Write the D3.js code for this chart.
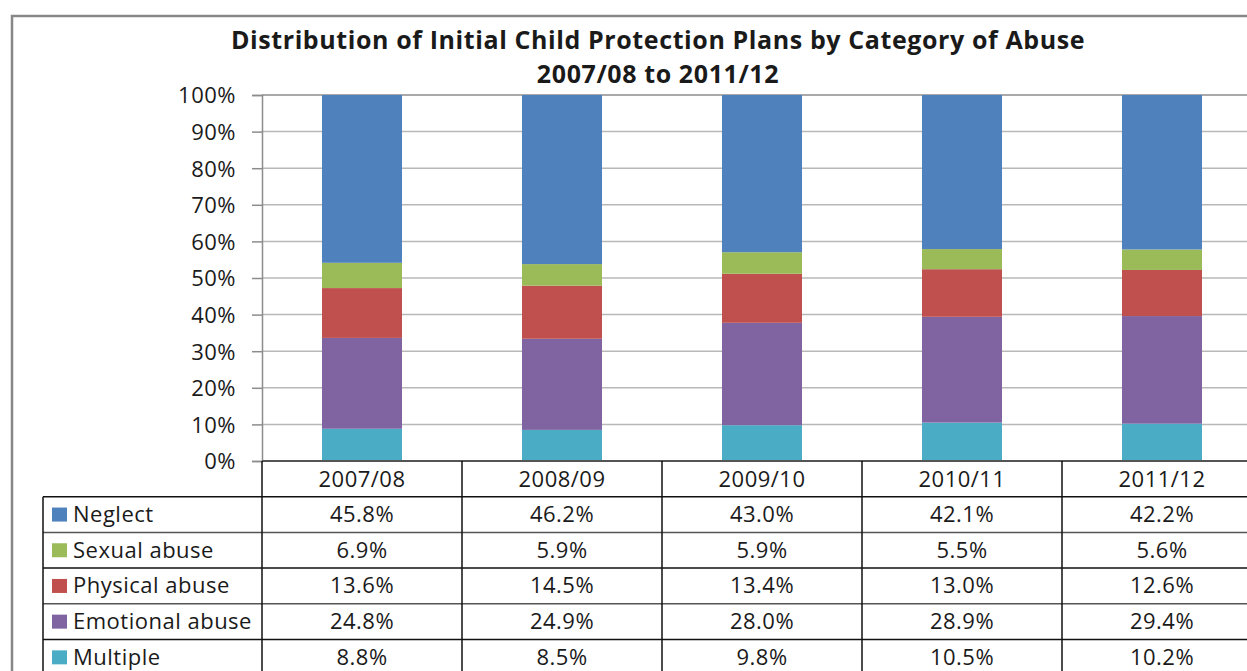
<!DOCTYPE html>
<html>
<head>
<meta charset="utf-8">
<script src="https://d3js.org/d3.v7.min.js"></script>
<style>
  body { margin: 0; background: #fff; }
  text { font-family: "Open Sans", Lato, sans-serif; fill: #1a1a1a; font-variant-ligatures: none; }
</style>
</head>
<body>
<div id="chart"></div>
<script>
// chart values
var years = ["2007/08", "2008/09", "2009/10", "2010/11", "2011/12"];
var neglect = [45.8, 46.2, 43.0, 42.1, 42.2];
var sexual = [6.9, 5.9, 5.9, 5.5, 5.6];
var physical = [13.6, 14.5, 13.4, 13.0, 12.6];
var emotional = [24.8, 24.9, 28.0, 28.9, 29.4];
var multiple = [8.8, 8.5, 9.8, 10.5, 10.2];
var yTicks = [0, 0.1, 0.2, 0.3, 0.4, 0.5, 0.6, 0.7, 0.8, 0.9, 1];

// table rows top to bottom, stack is the reverse
var series = [
  { key: "Neglect", values: neglect, color: "#4F81BD" },
  { key: "Sexual abuse", values: sexual, color: "#9BBB59" },
  { key: "Physical abuse", values: physical, color: "#C0504D" },
  { key: "Emotional abuse", values: emotional, color: "#8064A2" },
  { key: "Multiple", values: multiple, color: "#4BACC6" }
];

var width = 1247, height = 671;
var plot = { left: 262, right: 1262, top: 95, bottom: 461 };
var rowH = 35.7;

var svg = d3.select('#chart')
  .append('svg')
  .attr('width', width)
  .attr('height', height);

// outer frame
svg.append('path')
  .attr('d', 'M12,' + (height + 5) + 'V16H' + (width + 5))
  .attr('fill', 'none')
  .attr('stroke', '#878787')
  .attr('stroke-width', 2.5);

var x = d3.scaleBand()
  .domain(years)
  .range([plot.left, plot.right])
  .paddingInner(0.6)
  .paddingOuter(0.3);

var y = d3.scaleLinear()
  .domain([0, 1])
  .range([plot.bottom, plot.top]);

// gridlines
svg.append('g')
  .attr('class', 'grid')
  .selectAll('line')
  .data(yTicks)
  .enter().append('line')
  .attr('x1', plot.left)
  .attr('x2', width)
  .attr('y1', function (d) { return y(d); })
  .attr('y2', function (d) { return y(d); })
  .attr('stroke', function (d) { return d === 1 ? '#8c8c8c' : '#b8b8b8'; })
  .attr('stroke-width', 1.5);

// stacked bars
var rows = years.map(function (yr, i) {
  var r = { year: yr };
  series.forEach(function (s) { r[s.key] = s.values[i]; });
  return r;
});

var stack = d3.stack()
  .keys(series.map(function (s) { return s.key; }).reverse())
  .offset(d3.stackOffsetExpand);

var layers = stack(rows);
var colorOf = {};
series.forEach(function (s) { colorOf[s.key] = s.color; });

svg.append('g')
  .selectAll('g')
  .data(layers)
  .enter().append('g')
  .attr('fill', function (d) { return colorOf[d.key]; })
  .selectAll('rect')
  .data(function (d) { return d; })
  .enter().append('rect')
  .attr('x', function (d) { return x(d.data.year); })
  .attr('width', x.bandwidth())
  .attr('y', function (d) { return y(d[1]); })
  .attr('height', function (d) { return y(d[0]) - y(d[1]); });

// y axis
var yAxis = svg.append('g')
  .attr('transform', 'translate(' + plot.left + ',0)')
  .call(d3.axisLeft(y)
    .tickValues(yTicks)
    .tickFormat(d3.format('.0%'))
    .tickSize(10)
    .tickPadding(16));

yAxis.select('.domain').attr('stroke', '#8c8c8c').attr('stroke-width', 1.5);
yAxis.selectAll('.tick line').attr('stroke', '#8c8c8c').attr('stroke-width', 1.5);
yAxis.selectAll('.tick text')
  .attr('dy', '0.36em')
  .style('font-family', '"Open Sans", sans-serif')
  .style('font-size', '22px')
  .style('letter-spacing', '0.5px')
  .attr('fill', '#1a1a1a');

// title
var title = svg.append('g')
  .style('font-size', '25px')
  .style('font-weight', 'bold')
  .style('letter-spacing', '0.6px');
title.append('text')
  .attr('x', 658).attr('y', 49)
  .attr('text-anchor', 'middle')
  .text('Distribution of Initial Child Protection Plans by Category of Abuse');
title.append('text')
  .attr('x', 658).attr('y', 83)
  .attr('text-anchor', 'middle')
  .text('2007/08 to 2011/12');

// data table
var table = svg.append('g').attr('class', 'table')
  .style('font-size', '22px')
  .style('letter-spacing', '0.5px');
var tableTop = plot.bottom;
var legendLeft = 43;
var colEdges = years.map(function (d) { return x(d) - (x.step() - x.bandwidth()) / 2; });

// horizontal lines
d3.range(series.length + 2).forEach(function (i) {
  var yy = tableTop + i * rowH;
  table.append('line')
    .attr('x1', i === 0 ? plot.left : legendLeft)
    .attr('x2', width)
    .attr('y1', yy)
    .attr('y2', yy)
    .attr('stroke', i % 2 === 0 ? '#555' : '#111')
    .attr('stroke-width', i === 0 ? 2 : 1.5);
});

// vertical lines
colEdges.concat([plot.right]).forEach(function (cx) {
  table.append('line')
    .attr('x1', cx).attr('x2', cx)
    .attr('y1', tableTop).attr('y2', height)
    .attr('stroke', '#111')
    .attr('stroke-width', 1.5);
});
table.append('line')
  .attr('x1', legendLeft).attr('x2', legendLeft)
  .attr('y1', tableTop + rowH).attr('y2', height)
  .attr('stroke', '#111')
  .attr('stroke-width', 1.5);

// header labels
table.selectAll('.year')
  .data(years)
  .enter().append('text')
  .attr('class', 'year')
  .attr('x', function (d) { return x(d) + x.bandwidth() / 2; })
  .attr('y', tableTop + rowH / 2 + 8)
  .attr('text-anchor', 'middle')
  .text(function (d) { return d; });

// legend column and values
var row = table.selectAll('.row')
  .data(series)
  .enter().append('g')
  .attr('class', 'row')
  .attr('transform', function (d, i) {
    return 'translate(0,' + (tableTop + (i + 1) * rowH) + ')';
  });

row.append('rect')
  .attr('x', 52)
  .attr('y', rowH / 2 - 7)
  .attr('width', 15)
  .attr('height', 14)
  .attr('fill', function (d) { return d.color; });

row.append('text')
  .attr('x', 73)
  .attr('y', rowH / 2 + 7.5)
  .text(function (d) { return d.key; });

row.selectAll('.val')
  .data(function (d) { return d.values; })
  .enter().append('text')
  .attr('class', 'val')
  .attr('x', function (d, i) { return x(years[i]) + x.bandwidth() / 2; })
  .attr('y', rowH / 2 + 7.5)
  .attr('text-anchor', 'middle')
  .text(function (d) { return d.toFixed(1) + '%'; });
</script>
</body>
</html>
